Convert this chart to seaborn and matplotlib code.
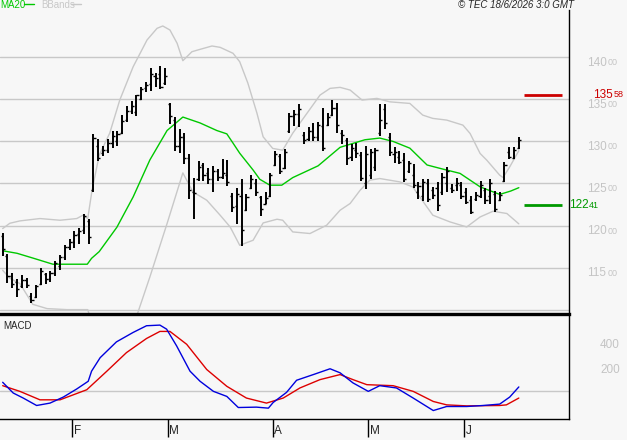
import pandas as pd
import matplotlib
matplotlib.use("Agg")
from matplotlib import pyplot as plt
from matplotlib import transforms
from matplotlib.lines import Line2D
import seaborn as sns

# daily OHLC bars
bar_open = [118.8, 116.4, 114.0, 113.3, 112.8, 113.5, 111.6, 111.5, 113.0, 114.2,
            113.6, 114.4, 115.2, 116.2, 117.4, 118.0, 119.0, 119.5, 120.5, 124.2,
            129.5, 128.6, 129.0, 129.8, 130.0, 131.0, 132.5, 133.6, 133.5, 135.0,
            136.3, 136.8, 137.8, 138.0, 137.0, 134.4, 132.5, 129.5, 130.5, 128.0,
            124.0, 125.5, 127.2, 126.2, 125.5, 126.5, 125.8, 126.0, 123.5, 122.3,
            123.5, 121.8, 124.5, 125.0, 123.4, 122.6, 123.5, 127.2, 128.3, 126.8,
            131.2, 133.0, 133.3, 130.8, 130.3, 131.2, 130.5, 131.8, 132.0, 133.2,
            134.0, 131.0, 130.2, 128.2, 129.0, 128.4, 125.0, 126.0, 127.0, 131.0,
            133.8, 130.5, 128.5, 128.2, 127.8, 126.5, 126.0, 124.0, 123.5, 125.0,
            124.2, 124.5, 124.0, 125.0, 124.5, 124.8, 124.8, 124.0, 123.0, 123.2,
            123.5, 124.2, 123.5, 123.8, 123.0, 125.3, 128.8, 128.0, 129.2]
bar_high = [119.09, 116.59, 114.41, 113.61, 114.09, 113.81, 112.02, 112.90, 115.00, 114.41,
            114.60, 115.79, 116.47, 117.66, 118.37, 119.37, 119.76, 121.40, 120.80, 130.90,
            130.30, 129.45, 130.24, 131.22, 131.22, 133.19, 134.17, 134.76, 135.55, 136.46,
            137.01, 138.70, 138.11, 138.98, 138.70, 134.57, 132.90, 131.50, 131.05, 128.48,
            125.71, 127.69, 127.49, 126.90, 127.09, 126.70, 127.88, 127.81, 123.85, 124.52,
            125.59, 123.73, 125.99, 125.51, 123.54, 124.00, 126.22, 128.87, 128.48, 129.07,
            133.34, 133.74, 134.41, 131.13, 131.76, 132.23, 132.31, 134.01, 133.42, 134.92,
            134.53, 131.36, 130.45, 129.66, 129.86, 128.80, 129.47, 129.07, 129.27, 134.41,
            134.41, 131.05, 129.39, 128.87, 128.68, 127.69, 127.29, 125.20, 125.59, 125.59,
            124.64, 125.20, 126.20, 127.00, 124.92, 125.71, 125.12, 124.52, 123.53, 123.93,
            125.32, 124.52, 125.52, 124.13, 123.93, 127.50, 129.29, 129.29, 130.48]
bar_low = [116.39, 113.21, 112.62, 111.55, 112.62, 112.62, 110.75, 111.43, 112.90, 113.02,
           113.29, 114.01, 114.72, 115.91, 117.10, 117.38, 117.78, 119.00, 117.85, 123.94,
           127.68, 128.27, 128.66, 129.25, 129.45, 130.83, 132.28, 133.31, 132.99, 134.96,
           135.83, 135.94, 136.46, 136.22, 136.73, 132.13, 128.90, 128.68, 127.29, 123.14,
           120.77, 125.32, 125.32, 124.92, 123.93, 125.32, 125.51, 124.72, 121.56, 120.18,
           117.61, 121.76, 124.33, 123.54, 121.09, 122.55, 123.34, 127.09, 126.11, 126.70,
           131.05, 131.84, 131.76, 129.66, 130.06, 130.06, 130.06, 128.87, 131.84, 133.02,
           131.05, 129.66, 127.17, 127.69, 128.00, 125.32, 124.33, 125.51, 126.50, 130.65,
           131.52, 128.28, 127.49, 127.29, 125.12, 126.30, 124.52, 123.14, 122.94, 122.75,
           123.14, 121.76, 123.60, 124.00, 123.85, 124.13, 123.13, 122.54, 121.35, 122.94,
           123.33, 122.54, 122.54, 121.63, 122.94, 125.12, 127.90, 127.90, 129.09]
bar_close = [117.2, 114.0, 113.1, 112.5, 113.5, 112.9, 111.2, 112.8, 114.6, 113.6,
             114.3, 115.5, 116.2, 117.4, 118.0, 118.9, 119.4, 121.1, 118.6, 130.4,
             128.0, 129.0, 129.8, 130.6, 130.9, 132.4, 133.6, 134.2, 135.5, 136.2,
             136.7, 138.0, 137.5, 136.5, 137.8, 133.0, 129.5, 130.5, 128.0, 124.2,
             123.9, 127.0, 126.0, 125.5, 126.5, 125.8, 126.2, 125.2, 122.2, 123.8,
             119.5, 123.4, 125.5, 124.0, 122.0, 123.3, 126.0, 128.5, 126.5, 128.8,
             133.0, 133.3, 133.8, 130.2, 131.3, 130.5, 132.0, 129.2, 132.9, 134.0,
             132.0, 130.8, 128.0, 129.2, 128.6, 125.6, 128.5, 128.8, 129.0, 132.5,
             132.2, 128.8, 128.7, 127.6, 125.5, 127.4, 124.8, 124.7, 125.2, 123.2,
             123.6, 122.5, 125.8, 126.5, 124.2, 125.0, 123.5, 122.8, 121.6, 123.6,
             124.8, 123.0, 125.0, 122.0, 123.6, 127.2, 128.2, 129.0, 130.2]

holidays = ["2026-04-03", "2026-04-06", "2026-05-01"]
dates = pd.bdate_range("2026-01-12", "2026-06-16")
dates = dates[~dates.isin(pd.to_datetime(holidays))]

# indicator lines, sampled at bar positions
ma20_at = [0, 3.0, 6.5, 10.5, 13.5, 17.7, 18.6, 20.2, 23.9, 27.3, 30.8, 34.4, 37.7, 41.3,
           44.8, 46.9, 48.2, 49.6, 52.4, 53.8, 55.9, 58.4, 60.7, 66.0, 70.6, 75.8, 78.9,
           81.7, 85.2, 88.8, 91.5, 93.6, 95.7, 99.9, 104.0, 106.3, 108.0]
ma20 = [117.0, 116.7, 116.1, 115.4, 115.4, 115.4, 116.1, 116.9, 119.8, 123.4, 127.8, 131.3,
        132.9, 132.2, 131.3, 130.9, 129.8, 128.6, 126.6, 125.5, 124.8, 124.8, 125.7, 127.1,
        129.3, 130.2, 130.4, 130.0, 129.2, 127.2, 126.8, 126.5, 126.2, 124.6, 123.7, 124.1,
        124.5]
upper_at = [0, 1.5, 3.6, 7.8, 12.0, 15.5, 16.8, 17.8, 18.7, 20.2, 22.4, 24.5, 27.3, 30.2,
            32.3, 33.5, 35.0, 36.5, 37.7, 39.6, 41.3, 43.8, 45.5, 48.2, 49.6, 51.3, 53.2,
            54.5, 56.5, 58.6, 60.7, 63.7, 66.4, 68.5, 70.6, 72.7, 75.2, 78.3, 81.0, 85.2,
            87.9, 90.0, 92.9, 96.3, 97.8, 99.9, 101.3, 104.0, 104.7, 106.1, 108.0]
upper = [119.64, 120.27, 120.55, 120.83, 120.63, 120.83, 121.23, 120.83, 124.2, 128.37,
         130.99, 134.92, 138.88, 142.06, 143.45, 143.73, 143.25, 141.67, 139.6, 140.67,
         140.95, 141.35, 141.19, 140.48, 139.48, 136.94, 133.37, 130.55, 129.17, 128.96,
         130.99, 133.37, 135.51, 136.31, 136.43, 136.11, 134.92, 135.12, 134.71, 134.52,
         133.13, 132.74, 132.54, 131.94, 130.95, 128.57, 127.77, 125.99, 125.71, 126.98,
         128.9]
lower_at = [0, 1.5, 3.6, 6.3, 9.3, 13.5, 17.8, 18.7, 20.2, 22.4, 25.0, 28.1, 30.8, 34.4,
            37.7, 39.8, 42.7, 45.5, 47.6, 49.6, 52.4, 54.5, 57.4, 58.6, 60.7, 64.3, 67.8,
            70.6, 72.7, 74.8, 76.8, 78.9, 83.1, 85.8, 90.0, 93.6, 97.1, 99.9, 102.6, 105.5,
            108.0]
lower = [114.68, 113.73, 113.1, 110.63, 110.12, 110.0, 110.0, 108.3, 105.5, 105.8, 107.8,
         109.34, 113.88, 120.24, 126.26, 124.0, 123.01, 121.23, 119.83, 117.65, 118.25,
         120.31, 120.75, 120.63, 119.24, 119.05, 120.04, 121.82, 122.62, 124.2, 125.39,
         125.59, 125.19, 124.59, 121.23, 120.43, 119.83, 121.02, 121.7, 121.43, 120.2]

macd_at = [0, 2.2, 4.3, 7.1, 9.9, 12.7, 15.5, 17.9, 18.6, 20.4, 23.8, 27.3, 30.1, 32.9,
           34.3, 36.4, 39.2, 41.3, 44.1, 46.9, 49.3, 53.1, 55.6, 56.6, 59.4, 61.5, 65.0,
           68.5, 70.6, 73.3, 76.5, 78.9, 82.4, 85.9, 90.1, 92.9, 97.1, 100.5, 104.0, 106.1,
           108.0]
macd = [69, -16, -56, -115, -96, -48, 16, 77, 157, 264, 389, 464, 517, 522, 490, 357, 157,
        77, -3, -43, -131, -128, -136, -91, -11, 85, 130, 176, 144, 64, -3, 42, 24, -56,
        -155, -123, -123, -115, -104, -48, 32]
signal_at = [0, 3.6, 7.8, 12.0, 17.6, 21.8, 25.9, 30.1, 32.9, 35.0, 38.5, 42.7, 46.9, 51.0,
             55.2, 58.7, 62.2, 66.4, 70.6, 73.3, 76.2, 81.7, 85.9, 90.1, 92.9, 97.1, 104.0,
             105.4, 108.0]
signal = [42, -3, -70, -70, 10, 157, 304, 416, 472, 472, 370, 170, 37, -56, -96, -56, 24,
          90, 130, 90, 50, 42, -3, -83, -110, -118, -115, -110, -56]

price_ticks = [115, 120, 125, 130, 135, 140]
grid_levels = [110, 115, 120, 125, 130, 135, 140]
macd_ticks = [200, 400]
last_high = 135.58
last_low = 122.41

bg = "#f7f7f7"
grid_c = "#c8c8c8"
label_c = "#c4c4c4"
ma_c = "#00c800"
band_c = "#c8c8c8"

sns.set_style("white", {"axes.facecolor": bg, "figure.facecolor": bg})
plt.rcParams["font.family"] = ["Liberation Sans", "DejaVu Sans"]

W, H = 627, 440
fig = plt.figure(figsize=(W / 100, H / 100), dpi=100)
ax = fig.add_axes([0, 1 - 314 / H, 569 / W, (314 - 10) / H])
ax2 = fig.add_axes([0, 1 - 419 / H, 569 / W, (419 - 314) / H])

n = len(bar_close)
idx = list(range(n))
xlim = (-0.56, 118.5)

# price panel
ax.set_xlim(*xlim)
ax.set_ylim(109.48, 145.63)
ax.set_yticks(grid_levels)
ax.set_xticks([])
ax.grid(axis="y", color=grid_c, lw=1.0)
ax.tick_params(left=False, right=False, labelleft=False, bottom=False)

sns.lineplot(x=upper_at, y=upper, ax=ax, color=band_c, lw=1.0, sort=False, estimator=None)
sns.lineplot(x=lower_at, y=lower, ax=ax, color=band_c, lw=1.0, sort=False, estimator=None)
sns.lineplot(x=ma20_at, y=ma20, ax=ax, color=ma_c, lw=1.0, sort=False, estimator=None)

ax.vlines(idx, bar_low, bar_high, color="black", lw=1.4)
ax.hlines(bar_open, [i - 0.45 for i in idx], idx, color="black", lw=1.0)
ax.hlines(bar_close, idx, [i + 0.45 for i in idx], color="black", lw=1.0)

ax.hlines([last_high], 109.1, 117.0, color="#cc0000", lw=2.0)
ax.hlines([last_low], 109.1, 117.0, color="#009900", lw=2.0)

for s in ["left", "top", "bottom"]:
    ax.spines[s].set_visible(False)
ax.spines["right"].set_color("black")
ax.spines["right"].set_linewidth(1.0)

trans = transforms.blended_transform_factory(fig.transFigure, ax.transData)
lab_t = transforms.offset_copy(trans, fig=fig, y=-5.5, units="dots")
for v in price_ticks:
    fig.text(587 / W, v, f"{int(v)}", transform=lab_t, color=label_c, fontsize=8.5,
             va="center", ha="left")
    fig.text(608 / W, v, f"{v:.2f}".split(".")[1], transform=lab_t, color=label_c,
             fontsize=6.5, va="center", ha="left")

lab_r = transforms.offset_copy(trans, fig=fig, y=0, units="dots")
fig.text(593 / W, last_high, f"{int(last_high)}", transform=lab_r, color="#cc0000",
         fontsize=8.5, va="center", ha="left")
fig.text(614 / W, last_high, f"{last_high:.2f}".split(".")[1], transform=lab_r,
         color="#cc0000", fontsize=6.5, va="center", ha="left")
fig.text(569.5 / W, last_low, f"{int(last_low)}", transform=lab_r, color="#009900",
         fontsize=8.5, va="center", ha="left")
fig.text(589 / W, last_low, f"{last_low:.2f}".split(".")[1], transform=lab_r,
         color="#009900", fontsize=6.5, va="center", ha="left")

# MACD panel
ax2.set_xlim(*xlim)
ax2.set_ylim(-222, 610)
ax2.axhline(0, color=grid_c, lw=1.0)
sns.lineplot(x=signal_at, y=signal, ax=ax2, color="#dd0000", lw=1.0, sort=False, estimator=None)
sns.lineplot(x=macd_at, y=macd, ax=ax2, color="#0000dd", lw=1.0, sort=False, estimator=None)
ax2.set_yticks([])
ax2.spines["left"].set_visible(False)
ax2.spines["top"].set_color("black")
ax2.spines["top"].set_linewidth(2.4)
ax2.spines["bottom"].set_color("black")
ax2.spines["bottom"].set_linewidth(1.0)
ax2.spines["right"].set_color("black")
ax2.spines["right"].set_linewidth(1.0)
ax2.text(3 / 569, 0.93, "MACD", transform=ax2.transAxes, fontsize=7, va="top", ha="left")

trans2 = transforms.blended_transform_factory(fig.transFigure, ax2.transData)
lab_t2 = transforms.offset_copy(trans2, fig=fig, y=-4.5, units="dots")
for v in macd_ticks:
    fig.text(600 / W, v, str(v), transform=lab_t2, color=label_c, fontsize=8.5,
             va="center", ha="left")

# month ticks
month_pos = []
month_lab = []
for i in range(1, n):
    if dates[i].month != dates[i - 1].month:
        month_pos.append(i - 0.5)
        month_lab.append(dates[i].strftime("%b")[0])
ax2.set_xticks(month_pos)
ax2.set_xticklabels([])
ax2.tick_params(axis="x", direction="out", length=13, width=1.0, color="black", bottom=True)
tl = transforms.blended_transform_factory(ax2.transData, ax2.transAxes)
for p, m in zip(month_pos, month_lab):
    ax2.text(p + 0.35, -0.175, m, transform=tl, fontsize=8.5, va="bottom", ha="left")

# header
fig.text(0.0, 1 - 0.5 / H, "MA20", color=ma_c, fontsize=7, va="top", ha="left")
fig.add_artist(Line2D([24 / W, 34 / W], [1 - 4.5 / H] * 2, color=ma_c, lw=1.0))
fig.text(41 / W, 1 - 0.5 / H, "BBands", color=band_c, fontsize=7, va="top", ha="left")
fig.add_artist(Line2D([71 / W, 81 / W], [1 - 4.5 / H] * 2, color=band_c, lw=1.0))
fig.text(574 / W, 1 - 0.5 / H, "\u00a9 TEC 18/6/2026 3:0 GMT", fontsize=7,
         style="italic", va="top", ha="right")

fig.savefig("out.png", dpi=100, facecolor=bg)
